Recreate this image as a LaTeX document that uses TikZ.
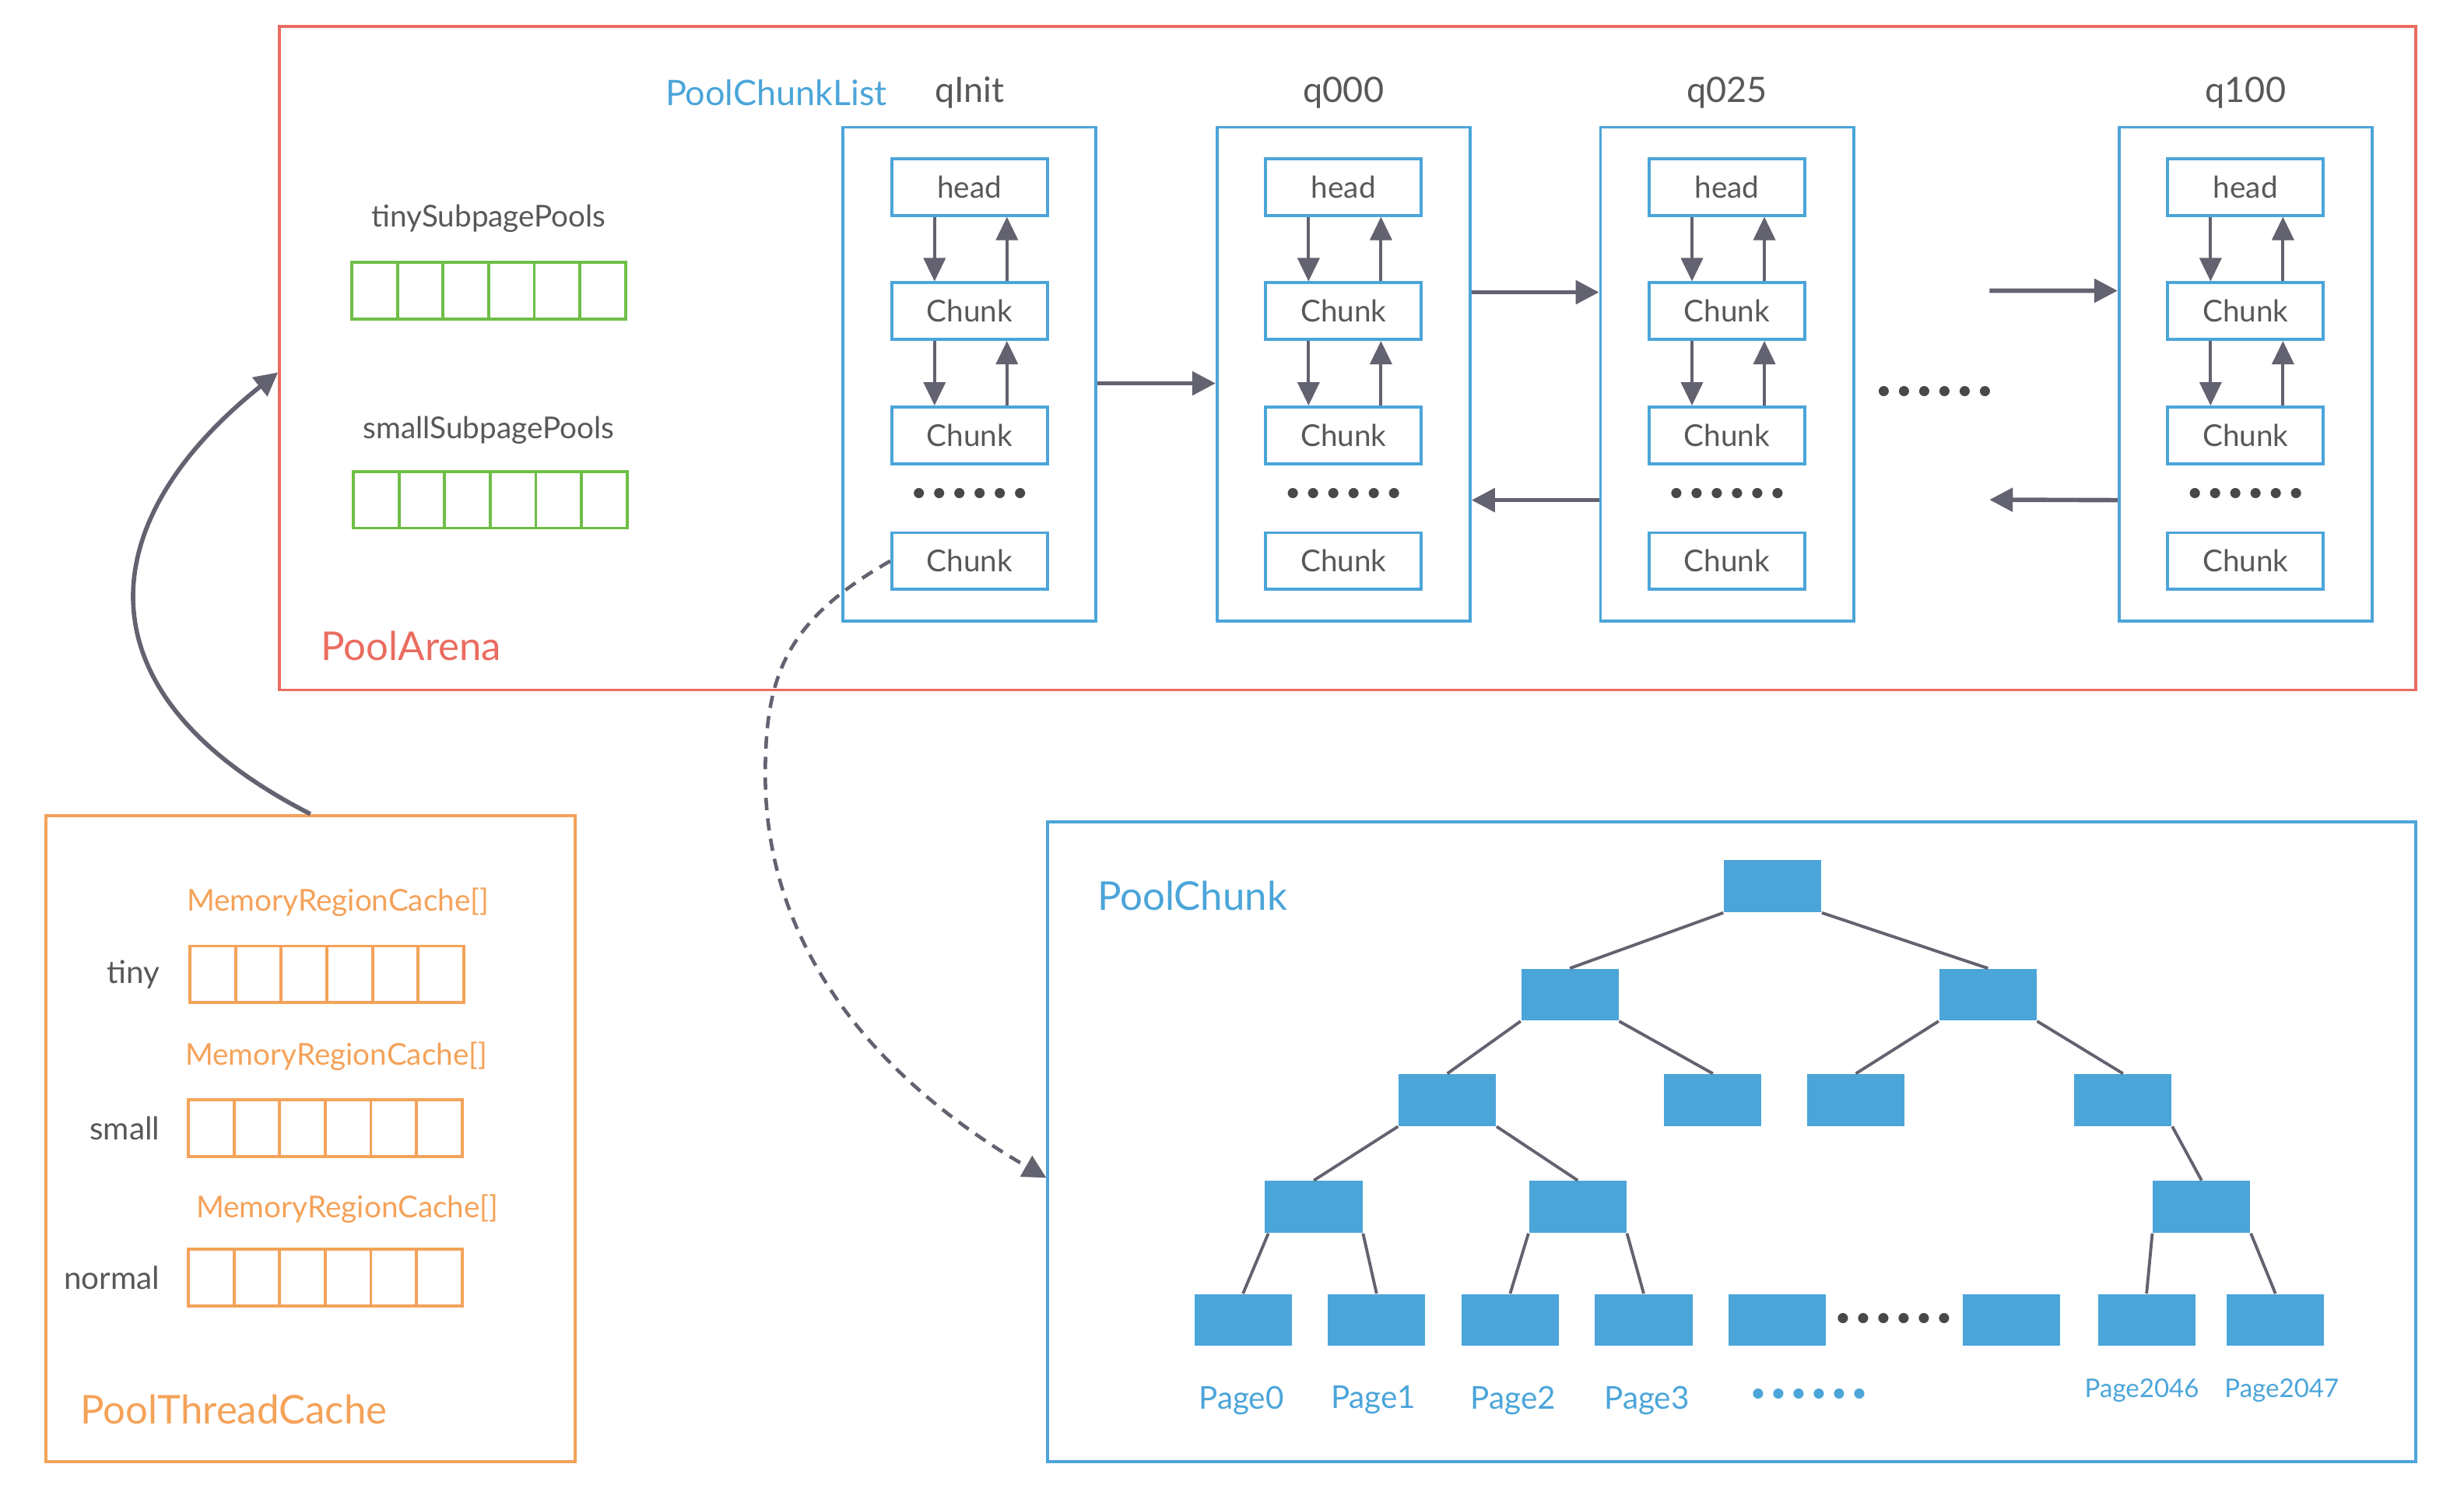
\documentclass[tikz,border=0pt]{standalone}
\usepackage{fontspec}
\setmainfont{Lato}
\usepackage{xcolor}
\definecolor{arenared}{RGB}{234,108,95}
\definecolor{listblue}{RGB}{75,165,217}
\definecolor{cacheorange}{RGB}{244,162,89}
\definecolor{poolgreen}{RGB}{110,190,70}
\definecolor{linkgray}{RGB}{98,98,112}
\definecolor{textgray}{RGB}{88,88,88}
\definecolor{dotgray}{RGB}{72,72,72}
\usepackage{tikz}
\usetikzlibrary{arrows.meta, positioning, calc}

\newcommand{\sixdots}{\textbullet\kern1.6pt\textbullet\kern1.6pt\textbullet\kern1.6pt\textbullet\kern1.6pt\textbullet\kern1.6pt\textbullet}

\begin{document}
\begin{tikzpicture}[x=0.02019cm, y=-0.02019cm,
        frame/.style={rectangle, line width=1.1pt, inner sep=0pt},
        listbox/.style={rectangle, draw=listblue, line width=1.1pt, minimum width=3.25cm, minimum height=6.34cm},
        item/.style={rectangle, draw=listblue, line width=1.1pt, minimum width=2cm, minimum height=0.727cm, text=textgray, font=\fontsize{11}{13}\selectfont},
        cell/.style={rectangle, line width=1.1pt, minimum width=0.586cm, minimum height=0.727cm, inner sep=0pt},
        treenode/.style={rectangle, fill=listblue, minimum width=1.252cm, minimum height=0.666cm, inner sep=0pt},
        title/.style={font=\fontsize{14.5}{17}\selectfont, anchor=west, inner sep=0pt},
        graytext/.style={text=textgray, font=\fontsize{12.8}{15}\selectfont},
        cachetext/.style={text=cacheorange, font=\fontsize{11}{13}\selectfont},
        pagetext/.style={text=listblue, font=\fontsize{11.5}{13}\selectfont},
        dotrow/.style={text=dotgray, font=\fontsize{10}{12}\selectfont, inner sep=0pt},
        inlink/.style={draw=linkgray, line width=1.1pt, -{Triangle[length=0.3cm, width=0.28cm]}},
        link/.style={draw=linkgray, line width=1.6pt, -{Triangle[length=0.3cm, width=0.3cm]}},
        edge/.style={draw=linkgray, line width=1.1pt}]

    \useasboundingbox (0,0) rectangle (1568,949);

    % containers
    \node [frame, draw=arenared, minimum width=27.44cm, minimum height=8.52cm] (arena) at (857.5,228) {};
    \node [frame, draw=cacheorange, minimum width=6.80cm, minimum height=8.30cm] (ptc) at (197.5,724.5) {};
    \node [frame, draw=listblue, minimum width=17.57cm, minimum height=8.22cm] (chunk) at (1102,726.5) {};

    \node [title, text=arenared] (arena-name) at (204,411) {PoolArena};
    \node [title, text=cacheorange] (ptc-name) at (51,897) {PoolThreadCache};
    \node [title, text=listblue] (chunk-name) at (698,570) {PoolChunk};

    % subpage pools
    \node [graytext, font=\fontsize{11}{13}\selectfont] (tiny-name) at (311,139) {tinySubpagePools};
    \node [graytext, font=\fontsize{11}{13}\selectfont] (small-name) at (311,274) {smallSubpagePools};
    \foreach \i in {0,...,5} {
        \node [cell, draw=poolgreen] (tsp\i) at ({238.5+29*\i},185) {};
        \node [cell, draw=poolgreen] (ssp\i) at ({239.5+29*\i},318) {};
    }

    % chunk lists
    \node [text=listblue, font=\fontsize{12.8}{15}\selectfont] (list-name) at (494,59) {PoolChunkList};
    \foreach \q/\x/\t in {qinit/617/qInit, q000/855/q000, q025/1099/q025, q100/1429/q100} {
        \node [listbox] (\q) at (\x,238) {};
        \node [graytext] (\q-name) at (\x,59) {\t};
        \node [item] (\q-head) at (\x,119) {head};
        \node [item] (\q-c1) at (\x,198) {Chunk};
        \node [item] (\q-c2) at (\x,277) {Chunk};
        \node [dotrow] (\q-dots) at (\x,315) {\sixdots};
        \node [item] (\q-c3) at (\x,357) {Chunk};
        \draw [inlink] ([xshift=-0.45cm]\q-head.south) -- ([xshift=-0.45cm]\q-c1.north);
        \draw [inlink] ([xshift=0.48cm]\q-c1.north) -- ([xshift=0.48cm]\q-head.south);
        \draw [inlink] ([xshift=-0.45cm]\q-c1.south) -- ([xshift=-0.45cm]\q-c2.north);
        \draw [inlink] ([xshift=0.48cm]\q-c2.north) -- ([xshift=0.48cm]\q-c1.south);
    }
    \node [dotrow] (list-dots) at (1231,250) {\sixdots};
    \coordinate (more-in) at (1266,185);
    \coordinate (more-out) at (1266,318);

    \draw [link] ([yshift=-0.12cm]qinit.east) -- ([yshift=-0.12cm]q000.west);
    \draw [link] ([yshift=1.05cm]q000.east) -- ([yshift=1.05cm]q025.west);
    \draw [link] ([yshift=-1.62cm]q025.west) -- ([yshift=-1.62cm]q000.east);
    \draw [link] (more-in) -- ([yshift=1.07cm]q100.west);
    \draw [link] ([yshift=-1.62cm]q100.west) -- (more-out);

    % thread cache
    \foreach \r/\y/\l/\d in {tiny/620/tiny/1, small/718/small/0, normal/813/normal/0} {
        \node [graytext, font=\fontsize{11.5}{13}\selectfont, anchor=east, inner sep=0pt] (\r-label) at (102,\y) {\l};
        \foreach \i in {0,...,5}
            \node [cell, draw=cacheorange] (\r\i) at ({134.5+\d+29*\i},\y) {};
    }
    \node [cachetext] (tiny-cache) at (215,574) {MemoryRegionCache[]};
    \node [cachetext] (small-cache) at (214,672) {MemoryRegionCache[]};
    \node [cachetext] (normal-cache) at (221,769) {MemoryRegionCache[]};

    % pool chunk tree
    \node [treenode] (root) at (1128,564) {};
    \node [treenode] (a) at (999,633) {};
    \node [treenode] (b) at (1265,633) {};
    \node [treenode] (c) at (921,700) {};
    \node [treenode] (d) at (1090,700) {};
    \node [treenode] (e) at (1181,700) {};
    \node [treenode] (f) at (1351,700) {};
    \node [treenode] (g) at (836,768) {};
    \node [treenode] (h) at (1004,768) {};
    \node [treenode] (i) at (1401,768) {};
    \node [treenode] (p0) at (791,840) {};
    \node [treenode] (p1) at (876,840) {};
    \node [treenode] (p2) at (961,840) {};
    \node [treenode] (p3) at (1046,840) {};
    \node [treenode] (p4) at (1131,840) {};
    \node [treenode] (p5) at (1280,840) {};
    \node [treenode] (p6) at (1366,840) {};
    \node [treenode] (p7) at (1448,840) {};
    \node [dotrow] (tree-dots) at (1205,840) {\sixdots};

    \draw [edge] (root.south west) -- (a.north);
    \draw [edge] (root.south east) -- (b.north);
    \draw [edge] (a.south west) -- (c.north);
    \draw [edge] (a.south east) -- (d.north);
    \draw [edge] (b.south west) -- (e.north);
    \draw [edge] (b.south east) -- (f.north);
    \draw [edge] (c.south west) -- (g.north);
    \draw [edge] (c.south east) -- (h.north);
    \draw [edge] (f.south east) -- (i.north);
    \draw [edge] ([xshift=0.05cm]g.south west) -- (p0.north);
    \draw [edge] (g.south east) -- (p1.north);
    \draw [edge] (h.south west) -- (p2.north);
    \draw [edge] (h.south east) -- (p3.north);
    \draw [edge] (i.south west) -- (p6.north);
    \draw [edge] (i.south east) -- (p7.north);

    \node [pagetext] (page0) at (790,891) {Page0};
    \node [pagetext] (page1) at (874,891) {Page1};
    \node [pagetext] (page2) at (963,891) {Page2};
    \node [pagetext] (page3) at (1048,891) {Page3};
    \node [dotrow, text=listblue] (page-dots) at (1151,888) {\sixdots};
    \node [pagetext, font=\fontsize{9.4}{11}\selectfont] (page2046) at (1363,885) {Page2046};
    \node [pagetext, font=\fontsize{9.4}{11}\selectfont] (page2047) at (1452,885) {Page2047};

    % links between parts
    \draw [link] (ptc.north) .. controls (45,440) and (60,330) .. ($(arena.west)+(0,9)$);
    \draw [link, line width=1.3pt, dash pattern=on 4.5pt off 3pt] (qinit-c3.west) .. controls (500,395) and (487,430) .. (487,493) .. controls (487,620) and (580,700) .. ($(chunk.west)+(0,23)$);
\end{tikzpicture}
\end{document}
